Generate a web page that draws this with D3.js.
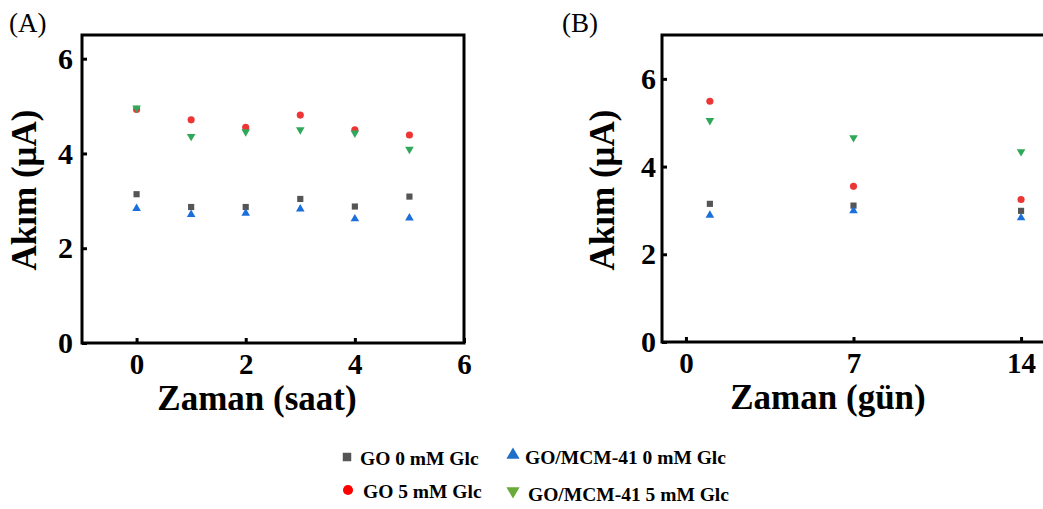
<!DOCTYPE html>
<html><head><meta charset="utf-8">
<script src="https://cdn.jsdelivr.net/npm/d3@7"></script>
<style>
body{margin:0;background:#fff;}
svg{display:block;}
text{font-family:"Liberation Serif","Times New Roman",serif;}
</style></head>
<body><svg id="c" width="1043" height="509"></svg>
<script>
// ---- Data ----
const seriesNames = ["GO 0 mM Glc","GO 5 mM Glc","GO/MCM-41 0 mM Glc","GO/MCM-41 5 mM Glc"];
const seriesColors = ["#555555","#ee3535","#1a6fdb","#2fa85a"];
const legendColors = ["#555555","#ff0000","#1f6fc8","#6aaa3a"];
const seriesSymbols = ["square","circle","triangleUp","triangleDown"];

const hoursA = [0,1,2,3,4,5];
const goZeroA   = [3.14,2.87,2.87,3.04,2.88,3.09];
const goFiveA   = [4.93,4.71,4.55,4.81,4.50,4.39];
const mcmZeroA  = [2.84,2.71,2.74,2.83,2.62,2.64];
const mcmFiveA  = [4.96,4.36,4.46,4.50,4.43,4.09];

const daysB = [1,7,14];
const goZeroB  = [3.15,3.11,2.99];
const goFiveB  = [5.49,3.55,3.25];
const mcmZeroB = [2.89,2.99,2.83];
const mcmFiveB = [5.05,4.66,4.34];

const ticksXA = [0,2,4,6];
const ticksYA = [0,2,4,6];
const ticksXB = [0,7,14];
const ticksYB = [0,2,4,6];

const svg = d3.select("#c");

function sym(type, size){
  if(type==="square") return d3.symbol(d3.symbolSquare, size)();
  if(type==="circle") return d3.symbol(d3.symbolCircle, size)();
  return d3.symbol(d3.symbolTriangle, size)();
}

function panel(opt){
  const g = svg.append("g");
  const x = d3.scaleLinear().domain(opt.xd).range([opt.l, opt.r]);
  const y = d3.scaleLinear().domain(opt.yd).range([opt.b, opt.t]);
  const fmt = d3.format("d");

  // y axis
  const ya = g.append("g").attr("transform",`translate(${opt.l},0)`)
    .call(d3.axisLeft(y).tickValues(opt.ty).tickFormat(fmt).tickSizeInner(-5).tickSizeOuter(0).tickPadding(opt.ypad));
  ya.select(".domain").remove();
  ya.selectAll(".tick line").attr("stroke","#000").attr("stroke-width",3);
  ya.selectAll(".tick text").attr("font-family","Liberation Serif").attr("font-weight","bold").attr("font-size",30).attr("fill","#000");

  const xa = g.append("g").attr("transform",`translate(0,${opt.b})`)
    .call(d3.axisBottom(x).tickValues(opt.tx).tickFormat(fmt).tickSizeInner(-5).tickSizeOuter(0).tickPadding(10));
  xa.select(".domain").remove();
  xa.selectAll(".tick line").attr("stroke","#000").attr("stroke-width",3);
  xa.selectAll(".tick text").attr("font-family","Liberation Serif").attr("font-weight","bold").attr("font-size",29).attr("fill","#000");

  // frame
  g.append("rect").attr("x",opt.l).attr("y",opt.t).attr("width",opt.r-opt.l).attr("height",opt.b-opt.t)
    .attr("fill","none").attr("stroke","#000").attr("stroke-width",3);

  // data
  opt.series.forEach((vals,i)=>{
    const type = seriesSymbols[i];
    const size = type==="square"?38:(type==="circle"?40:32);
    g.append("g").selectAll("path").data(vals).join("path")
      .attr("d", sym(type,size))
      .attr("transform",(d,j)=>`translate(${x(opt.xs[j])},${y(d)})${type==="triangleDown"?" rotate(180)":""}`)
      .attr("fill",seriesColors[i]);
  });

  // titles
  g.append("text").attr("x",opt.xtx).attr("y",opt.xty).attr("text-anchor","middle")
    .attr("font-weight","bold").attr("font-size",35).text(opt.xtitle);
  g.append("text").attr("transform",`translate(${opt.ytx},${opt.yty}) rotate(-90)`).attr("text-anchor","middle")
    .attr("font-weight","bold").attr("font-size",35).text("Akım (μA)");
  g.append("text").attr("x",opt.lx).attr("y",32).attr("font-size",27).text(opt.label);
}

panel({l:82,r:464,t:35,b:343,xd:[-1,6],yd:[0,6.5],tx:ticksXA,ty:ticksYA,ypad:9,
  xs:hoursA,series:[goZeroA,goFiveA,mcmZeroA,mcmFiveA],
  xtitle:"Zaman (saat)",xtx:257,xty:410,ytx:36,yty:190,label:"(A)",lx:9});

panel({l:662,r:1045,t:35,b:342,xd:[-1,15],yd:[0,7],tx:ticksXB,ty:ticksYB,ypad:6,
  xs:daysB,series:[goZeroB,goFiveB,mcmZeroB,mcmFiveB],
  xtitle:"Zaman (gün)",xtx:828,xty:409,ytx:614,yty:190,label:"(B)",lx:562});

// legend
const legendPos = [
  {mx:347,my:457,tx:360,ty:465},
  {mx:348,my:490,tx:363,ty:498},
  {mx:513,my:455,tx:525,ty:464},
  {mx:513,my:491,tx:528,ty:501}
];
const lg = svg.append("g");
seriesNames.forEach((n,i)=>{
  const p = legendPos[i], type = seriesSymbols[i];
  const size = type==="square"?72:(type==="circle"?80:75);
  lg.append("path").attr("d",sym(type,size))
    .attr("transform",`translate(${p.mx},${p.my})${type==="triangleDown"?" rotate(180)":""}`)
    .attr("fill",legendColors[i]);
  lg.append("text").attr("x",p.tx).attr("y",p.ty).attr("font-weight","bold").attr("font-size",19.5)
    .attr("fill","#000").text(n);
});
</script></body></html>
